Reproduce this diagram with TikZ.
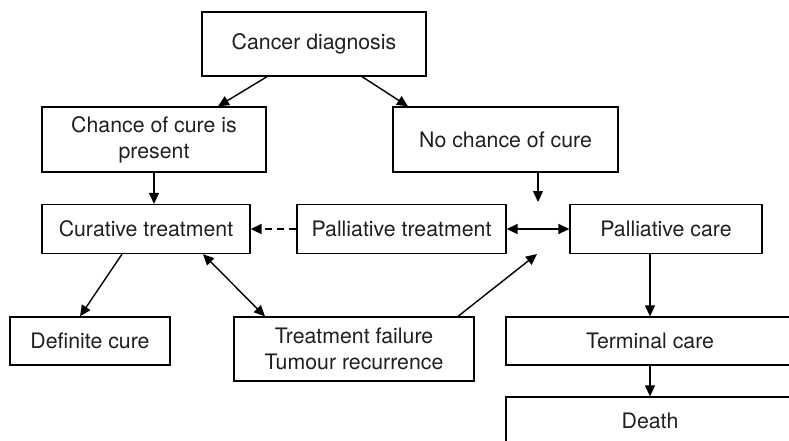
\documentclass[tikz,border=0pt]{standalone}
\usepackage{fontspec}
\setmainfont{TeX Gyre Heros}
\usetikzlibrary{arrows.meta}
\tikzset{
	box/.style = {draw, line width=1.3pt, inner sep=0pt, align=center,
		font=\fontsize{21.3}{26}\selectfont, text=black!88},
	arr/.style = {line width=1.4pt, -{Triangle[length=11pt,width=10pt]}},
	darr/.style = {line width=1.4pt, {Triangle[length=11pt,width=10pt]}-{Triangle[length=11pt,width=10pt]}}
}
\begin{document}
\begin{tikzpicture}[x=1pt,y=-1pt]
		\useasboundingbox (0,0) rectangle (789,440);
		\clip (0,0) rectangle (789,440);
		% boxes
		\node[box, minimum width=224pt, minimum height=64pt] (diag) at (314,44) {Cancer diagnosis};
		\node[box, minimum width=224pt, minimum height=65pt] (chance) at (154,139.5) {Chance of cure is\\present};
		\node[box, minimum width=225pt, minimum height=65pt] (nochance) at (505.5,139.5) {No chance of cure};
		\node[box, minimum width=208pt, minimum height=49pt] (curative) at (146,229) {Curative treatment};
		\node[box, minimum width=209pt, minimum height=49pt] (paltreat) at (401.5,229) {Palliative treatment};
		\node[box, minimum width=192pt, minimum height=49pt] (palcare) at (666,229) {Palliative care};
		\node[box, minimum width=160pt, minimum height=48pt] (defcure) at (90,341) {Definite cure};
		\node[box, minimum width=240pt, minimum height=64pt] (failure) at (354,349) {Treatment failure\\Tumour recurrence};
		\node[box, minimum width=288pt, minimum height=48pt] (terminal) at (650,341) {Terminal care};
		\node[box, minimum width=288pt, minimum height=48pt] (death) at (650,421) {Death};
		\coordinate (ncend) at (538,202);
		\coordinate (failend) at (537,254);
		% connectors
		\draw[arr] ([xshift=-47pt]diag.south) -- ([xshift=64pt]chance.north);
		\draw[arr] ([xshift=48pt]diag.south) -- ([xshift=-97.5pt]nochance.north);
		\draw[arr] (chance.south) -- (chance.south |- curative.north);
		\draw[arr] ([xshift=32.5pt]nochance.south) -- (ncend);
		\draw[arr, dash pattern=on 7pt off 5pt] (paltreat.west) -- (curative.east);
		\draw[darr] (paltreat.east) -- (palcare.west);
		\draw[arr] ([xshift=-24pt]curative.south) -- ([xshift=-10pt]defcure.north);
		\draw[darr] ([xshift=57pt]curative.south) -- ([xshift=-89pt]failure.north);
		\draw[arr] ([xshift=104pt]failure.north) -- (failend);
		\draw[arr] ([xshift=-16pt]palcare.south) -- (terminal.north);
		\draw[arr] (terminal.south) -- (death.north);
	\end{tikzpicture}
\end{document}
